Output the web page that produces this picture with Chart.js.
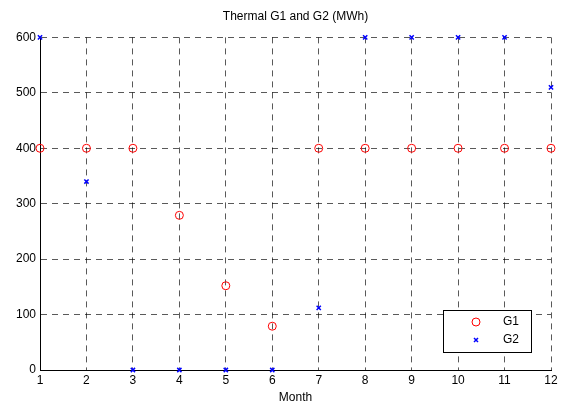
<!DOCTYPE html>
<html>
<head>
<meta charset="utf-8">
<script src="https://cdn.jsdelivr.net/npm/chart.js@4/dist/chart.umd.min.js"></script>
<style>
  body { margin: 0; background: #fff; }
</style>
</head>
<body>
<canvas id="chart1" width="565" height="405"></canvas>
<script>
// data
var months = [1, 2, 3, 4, 5, 6, 7, 8, 9, 10, 11, 12];
var g1 = [400, 400, 400, 279, 152, 79, 400, 400, 400, 400, 400, 400];
var g2 = [600, 340, 0, 0, 0, 0, 112, 600, 600, 600, 600, 510];
var seriesNames = ["G1", "G2"];

function toPoints(vals) {
  return months.map(function(m, i) { return { x: m, y: vals[i] }; });
}

Chart.defaults.font.family = "'Liberation Sans', Arial, sans-serif";
Chart.defaults.color = "#000";

// matlab style legend box, inside the plot bottom right
var boxLegend = {
  id: 'boxLegend',
  afterDraw: function(chart) {
    var ctx = chart.ctx;
    var x = 443, y = 310, w = 88, h = 42;
    ctx.save();
    ctx.fillStyle = "#fff";
    ctx.fillRect(x, y, w, h);
    ctx.strokeStyle = "#000";
    ctx.lineWidth = 1;
    ctx.strokeRect(x + 0.5, y + 0.5, w, h);
    ctx.font = "12px 'Liberation Sans', Arial";
    ctx.textBaseline = "middle";
    ctx.fillStyle = "#000";
    // G1 circle
    ctx.strokeStyle = "#ff0000";
    ctx.beginPath();
    ctx.arc(476, 322, 4, 0, Math.PI * 2);
    ctx.stroke();
    ctx.fillText(seriesNames[0], 503, 322);
    // G2 cross
    ctx.strokeStyle = "#0000ff";
    ctx.lineWidth = 1.5;
    ctx.beginPath();
    ctx.moveTo(474, 338); ctx.lineTo(478, 342);
    ctx.moveTo(478, 338); ctx.lineTo(474, 342);
    ctx.stroke();
    ctx.fillText(seriesNames[1], 503, 340);
    ctx.restore();
  }
};

var configg = {
  type: 'scatter',
  data: {
    datasets: [{
      label: seriesNames[0],
      data: toPoints(g1),
      pointStyle: 'circle',
      pointRadius: 4,
      pointHoverRadius: 4,
      borderColor: "#ff0000",
      backgroundColor: "rgba(0,0,0,0)",
      borderWidth: 1,
      clip: false
    }, {
      label: seriesNames[1],
      data: toPoints(g2),
      pointStyle: 'crossRot',
      pointRadius: 3,
      pointHoverRadius: 3,
      borderColor: "#0000ff",
      backgroundColor: "#0000ff",
      borderWidth: 1.5,
      clip: false
    }]
  },
  options: {
    responsive: false,
    animation: false,
    layout: { padding: { left: 0, right: 14, top: 0, bottom: 0 } },
    plugins: {
      legend: { display: false },
      tooltip: { enabled: false },
      title: {
        display: true,
        text: 'Thermal G1 and G2 (MWh)',
        fullSize: false,
        font: { size: 12, weight: 'normal' },
        padding: { top: 9, bottom: 14 }
      }
    },
    scales: {
      x: {
        type: 'linear',
        min: 1,
        max: 12,
        afterFit: function(scale) { scale.height = 35; },
        ticks: { stepSize: 1, padding: 3, font: { size: 12 } },
        grid: { color: "rgba(0,0,0,0.65)", lineWidth: 1, drawTicks: false },
        border: { display: true, color: "#000", width: 1, dash: [6, 5] },
        title: { display: true, text: 'Month', font: { size: 12 }, padding: { top: 1, bottom: 0 } }
      },
      y: {
        min: 0,
        max: 600,
        afterFit: function(scale) { scale.width = 40; },
        ticks: { stepSize: 100, padding: 4, font: { size: 12 } },
        grid: { color: "rgba(0,0,0,0.65)", lineWidth: 1, drawTicks: false },
        border: { display: true, color: "#000", width: 1, dash: [6, 5] }
      }
    }
  },
  plugins: [boxLegend]
};

var ctx1 = document.getElementById("chart1");
document.myScatter = new Chart(ctx1, configg);
</script>
</body>
</html>
